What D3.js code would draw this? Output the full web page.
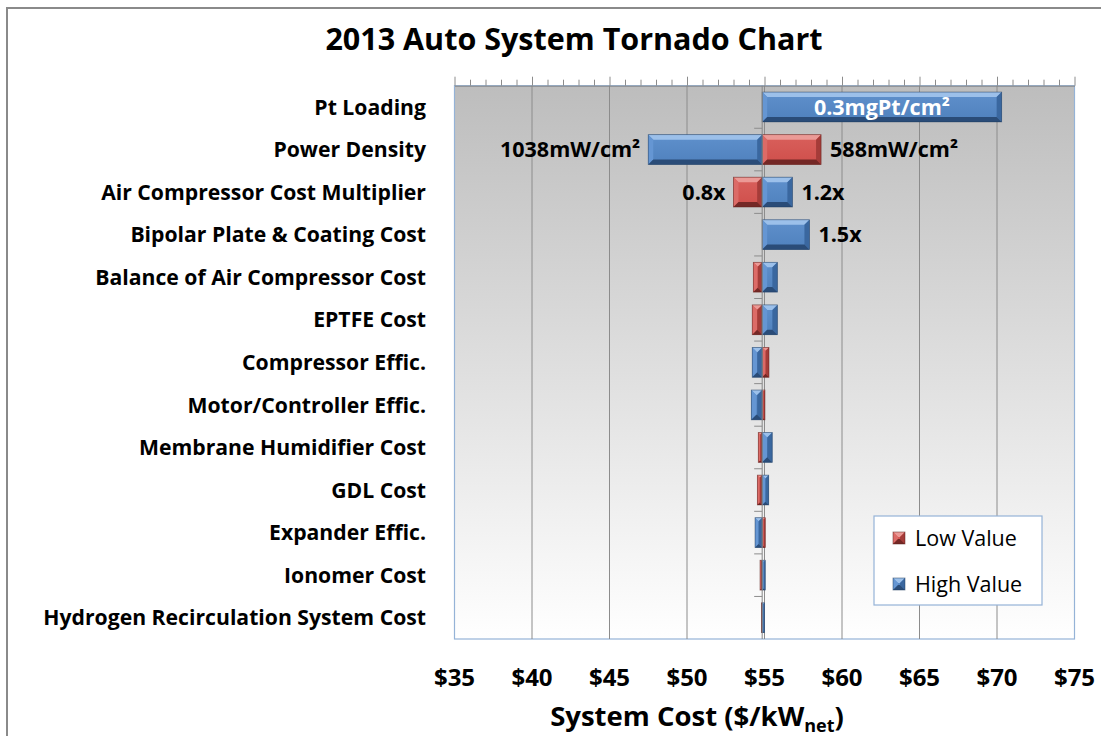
<!DOCTYPE html>
<html>
<head>
<meta charset="utf-8">
<script src="https://cdn.jsdelivr.net/npm/d3@7"></script>
<style>
  html, body { margin: 0; padding: 0; background: #ffffff; }
  svg { display: block; }
  text { font-family: "Open Sans", Lato, sans-serif; }
</style>
</head>
<body>
<svg id="chart" width="1101" height="736"></svg>
<script>
// Sensitivity inputs, top to bottom
const categories = [
  "Pt Loading",
  "Power Density",
  "Air Compressor Cost Multiplier",
  "Bipolar Plate & Coating Cost",
  "Balance of Air Compressor Cost",
  "EPTFE Cost",
  "Compressor Effic.",
  "Motor/Controller Effic.",
  "Membrane Humidifier Cost",
  "GDL Cost",
  "Expander Effic.",
  "Ionomer Cost",
  "Hydrogen Recirculation System Cost"
];

// Baseline system cost ($/kWnet) where the bars meet
const baseCost = 54.85;

// System cost at the low and high value of each input (null = no change)
const lowValues  = [null, 58.65, 53.0, null, 54.28, 54.21, 55.29, 55.03, 54.6, 54.54, 55.05, 54.71, 54.8];
const highValues = [70.3, 47.5, 56.8, 57.9, 55.83, 55.83, 54.21, 54.15, 55.5, 55.27, 54.39, 55.05, 55.0];

// Input values printed beside the bars
const lowLabels  = ["", "588mW/cm²", "0.8x", "", "", "", "", "", "", "", "", "", ""];
const highLabels = ["0.3mgPt/cm²", "1038mW/cm²", "1.2x", "1.5x", "", "", "", "", "", "", "", "", ""];

const tickValues = [35, 40, 45, 50, 55, 60, 65, 70, 75];
const tickLabels = ["$35", "$40", "$45", "$50", "$55", "$60", "$65", "$70", "$75"];

const svg = d3.select("#chart");
const plot = { left: 454.5, right: 1074.5, top: 85.7, bottom: 639 };

const x = d3.scaleLinear().domain([35, 75]).range([plot.left, plot.right]);
const y = d3.scaleBand().domain(categories).range([plot.top, plot.bottom]).paddingInner(0.3).paddingOuter(0.15);

const defs = svg.append("defs");
const bg = defs.append("linearGradient").attr("id", "plotBg").attr("x1", 0).attr("y1", 0).attr("x2", 0).attr("y2", 1);
bg.append("stop").attr("offset", "0%").attr("stop-color", "#bdbdbd");
bg.append("stop").attr("offset", "100%").attr("stop-color", "#ffffff");

const palettes = {
  low:  { face: "#cf4f4b", faceTop: "#d9605c", top: "#eb9a96", left: "#dc6b67", right: "#a53c39", bottom: "#742826", edge: "#5a1f1d" },
  high: { face: "#4f81bd", faceTop: "#5f90cc", top: "#9cc0ea", left: "#6596d3", right: "#3a679f", bottom: "#2a4c78", edge: "#1f3a5c" }
};
Object.entries(palettes).forEach(([k, p]) => {
  const g = defs.append("linearGradient").attr("id", "face-" + k).attr("x1", 0).attr("y1", 0).attr("x2", 0).attr("y2", 1);
  g.append("stop").attr("offset", "0%").attr("stop-color", p.faceTop);
  g.append("stop").attr("offset", "100%").attr("stop-color", p.face);
});

// Outer chart frame
svg.append("path")
  .attr("d", "M7,736 L7,8 L1101,8")
  .attr("fill", "none").attr("stroke", "#8a8a8a").attr("stroke-width", 2);

// Title
svg.append("text")
  .attr("x", 574).attr("y", 50)
  .attr("text-anchor", "middle")
  .attr("font-size", 30.5).attr("font-weight", 700).attr("fill", "#000")
  .text("2013 Auto System Tornado Chart");

// Plot area
svg.append("rect")
  .attr("x", plot.left).attr("y", plot.top)
  .attr("width", plot.right - plot.left).attr("height", plot.bottom - plot.top)
  .attr("fill", "url(#plotBg)")
  .attr("stroke", "#95b3d7").attr("stroke-width", 1.2);

// Vertical gridlines
svg.append("g").selectAll("line").data(tickValues.slice(1, -1)).join("line")
  .attr("x1", d => x(d)).attr("x2", d => x(d))
  .attr("y1", plot.top).attr("y2", plot.bottom)
  .attr("stroke", "#8c8c8c").attr("stroke-width", 1);

// Top value axis with major and minor ticks
const topAxis = d3.axisTop(x).tickValues(d3.range(35, 76, 1)).tickFormat("")
  .tickSize(6).tickSizeOuter(0);
const topG = svg.append("g").attr("transform", `translate(0,${plot.top})`).call(topAxis);
topG.select(".domain").attr("stroke", "#868686");
topG.selectAll(".tick line").attr("stroke", "#8c8c8c")
  .attr("y2", d => (d % 5 === 0 ? -9 : -6));

// Bottom tick labels
svg.append("g").selectAll("text").data(tickValues).join("text")
  .attr("x", d => x(d)).attr("y", 686)
  .attr("text-anchor", "middle")
  .attr("font-size", 24).attr("font-weight", 700).attr("fill", "#000")
  .text((d, i) => tickLabels[i]);

// Axis title with subscript
const xt = svg.append("text")
  .attr("x", 697).attr("y", 726)
  .attr("text-anchor", "middle")
  .attr("font-size", 27.5).attr("font-weight", 700).attr("fill", "#000");
xt.append("tspan").text("System Cost ($/kW");
xt.append("tspan").attr("font-size", 18).attr("dy", 6).text("net");
xt.append("tspan").attr("dy", -6).text(")");

// Category labels
svg.append("g").selectAll("text").data(categories).join("text")
  .attr("x", 426).attr("y", d => y(d) + y.bandwidth() / 2)
  .attr("dy", "0.36em")
  .attr("text-anchor", "end")
  .attr("font-size", 21.2).attr("font-weight", 700).attr("fill", "#000")
  .text(d => d);

// Bevelled bar
function bevelBar(g, x0, y0, w, h, p, key) {
  const b = Math.min(5, w / 2, h / 2);
  const gg = g.append("g");
  gg.append("rect").attr("x", x0).attr("y", y0).attr("width", w).attr("height", h)
    .attr("fill", `url(#face-${key})`);
  gg.append("polygon").attr("points", [[x0, y0], [x0 + w, y0], [x0 + w - b, y0 + b], [x0 + b, y0 + b]].join(" "))
    .attr("fill", p.top);
  gg.append("polygon").attr("points", [[x0, y0], [x0 + b, y0 + b], [x0 + b, y0 + h - b], [x0, y0 + h]].join(" "))
    .attr("fill", p.left);
  gg.append("polygon").attr("points", [[x0 + w, y0], [x0 + w - b, y0 + b], [x0 + w - b, y0 + h - b], [x0 + w, y0 + h]].join(" "))
    .attr("fill", p.right);
  gg.append("polygon").attr("points", [[x0, y0 + h], [x0 + b, y0 + h - b], [x0 + w - b, y0 + h - b], [x0 + w, y0 + h]].join(" "))
    .attr("fill", p.bottom);
  gg.append("rect").attr("x", x0).attr("y", y0).attr("width", w).attr("height", h)
    .attr("fill", "none").attr("stroke", p.edge).attr("stroke-opacity", 0.6).attr("stroke-width", 0.8);
}

const barsG = svg.append("g");
const series = [
  { key: "low", values: lowValues, labels: lowLabels },
  { key: "high", values: highValues, labels: highLabels }
];
series.forEach(s => {
  s.values.forEach((v, i) => {
    if (v == null) return;
    const x0 = x(Math.min(v, baseCost)), x1 = x(Math.max(v, baseCost));
    const yy = y(categories[i]);
    bevelBar(barsG, x0, yy, x1 - x0, y.bandwidth(), palettes[s.key], s.key);
  });
});

// Category axis at the baseline cost
svg.append("line")
  .attr("x1", x(baseCost)).attr("x2", x(baseCost))
  .attr("y1", plot.top).attr("y2", plot.bottom)
  .attr("stroke", "#868686").attr("stroke-width", 1);
svg.append("g").selectAll("line").data(d3.range(1, categories.length)).join("line")
  .attr("x1", x(baseCost) - 8).attr("x2", x(baseCost))
  .attr("y1", d => plot.top + d * (plot.bottom - plot.top) / categories.length)
  .attr("y2", d => plot.top + d * (plot.bottom - plot.top) / categories.length)
  .attr("stroke", "#8c8c8c").attr("stroke-width", 1);

// Value labels
const labG = svg.append("g");
series.forEach(s => {
  s.values.forEach((v, i) => {
    const txt = s.labels[i];
    if (!txt || v == null) return;
    const cy = y(categories[i]) + y.bandwidth() / 2;
    if (i === 0) {
      // label sits inside the long bar
      labG.append("text")
        .attr("x", (x(baseCost) + x(v)) / 2).attr("y", cy).attr("dy", "0.36em")
        .attr("text-anchor", "middle")
        .attr("font-size", 21.5).attr("font-weight", 700).attr("fill", "#ffffff")
        .text(txt);
      return;
    }
    const right = v > baseCost;
    labG.append("text")
      .attr("x", right ? x(v) + 9 : x(v) - 8).attr("y", cy).attr("dy", "0.36em")
      .attr("text-anchor", right ? "start" : "end")
      .attr("font-size", 21.5).attr("font-weight", 700).attr("fill", "#000")
      .text(txt);
  });
});

// Legend
const lg = svg.append("g").attr("transform", "translate(874,516)");
lg.append("rect").attr("width", 168).attr("height", 89)
  .attr("fill", "#ffffff").attr("stroke", "#95b3d7").attr("stroke-width", 1.2);
[["low", "Low Value", 22], ["high", "High Value", 68]].forEach(([k, name, cy]) => {
  bevelBar(lg, 19, cy - 6, 12, 12, palettes[k], k);
  lg.append("text").attr("x", 41).attr("y", cy).attr("dy", "0.36em")
    .attr("font-size", 21.5).attr("fill", "#000").text(name);
});
</script>
</body>
</html>
